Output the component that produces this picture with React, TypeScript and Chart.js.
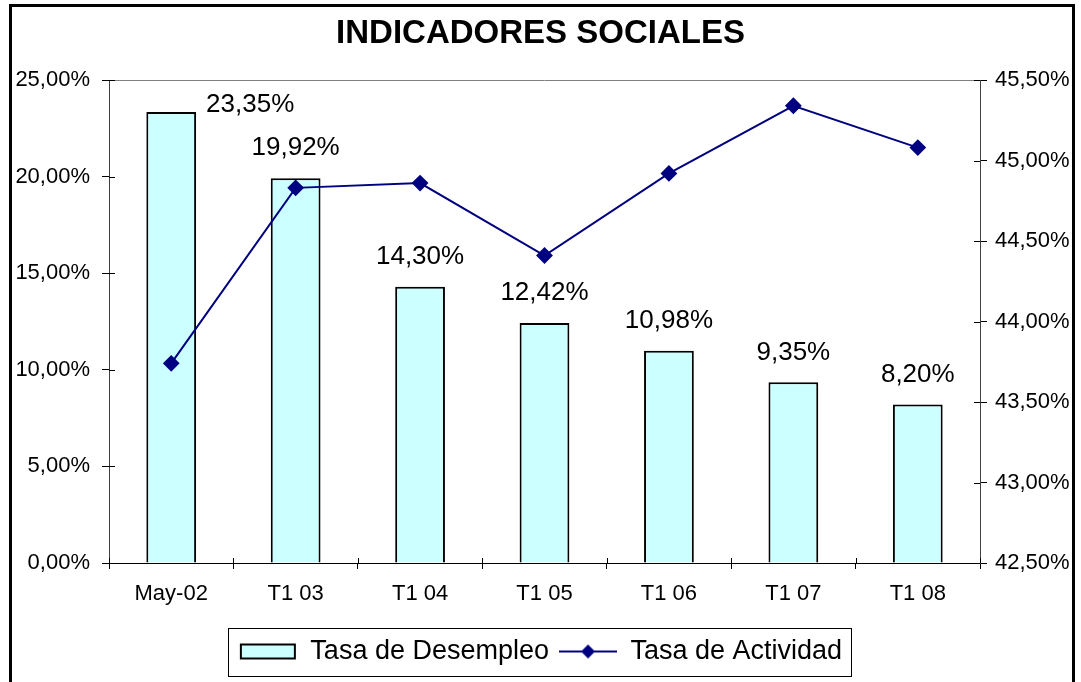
import React, { useEffect, useRef } from 'react';
import { Chart, registerables } from 'chart.js';

Chart.register(...registerables);

const categories = ['May-02', 'T1 03', 'T1 04', 'T1 05', 'T1 06', 'T1 07', 'T1 08'];
const desempleo = [23.35, 19.92, 14.3, 12.42, 10.98, 9.35, 8.2];
const actividad = [43.74, 44.83, 44.86, 44.41, 44.92, 45.34, 45.08];
const leftTicks = [0, 5, 10, 15, 20, 25];
const rightTicks = [42.5, 43, 43.5, 44, 44.5, 45, 45.5];
const seriesNames = ['Tasa de Desempleo', 'Tasa de Actividad'];
const title = 'INDICADORES SOCIALES';

const FONT = "'Liberation Sans', Arial, sans-serif";
const BAR_FILL = '#CCFFFF';
const LINE_COLOR = '#000080';

const fmt = (v: number) => v.toFixed(2).replace('.', ',') + '%';

// position tweak for the first data label (moved aside like in the original)
const LABEL_SHIFT: Array<[number, number]> = [[79, 23], [0, 0], [0, 0], [0, 0], [0, 0], [0, 0], [0, 0]];

function makeBarSymbol() {
  const c = document.createElement('canvas');
  c.width = 58;
  c.height = 18;
  const g = c.getContext('2d')!;
  g.fillStyle = BAR_FILL;
  g.fillRect(2, 2, 54, 14);
  g.strokeStyle = '#000';
  g.lineWidth = 2;
  g.strokeRect(2, 2, 54, 14);
  return c;
}

function makeLineSymbol() {
  const c = document.createElement('canvas');
  c.width = 58;
  c.height = 18;
  const g = c.getContext('2d')!;
  g.strokeStyle = LINE_COLOR;
  g.lineWidth = 2;
  g.beginPath();
  g.moveTo(0, 9);
  g.lineTo(58, 9);
  g.stroke();
  g.fillStyle = LINE_COLOR;
  g.beginPath();
  g.moveTo(29, 2);
  g.lineTo(36, 9);
  g.lineTo(29, 16);
  g.lineTo(22, 9);
  g.closePath();
  g.fill();
  return c;
}

const decorPlugin = {
  id: 'decor',
  afterDatasetsDraw(chart: any) {
    const { ctx, chartArea } = chart;
    const { left, right, top, bottom } = chartArea;
    ctx.save();
    // plot area top border
    ctx.strokeStyle = '#808080';
    ctx.lineWidth = 1;
    ctx.beginPath();
    ctx.moveTo(left, top + 0.5);
    ctx.lineTo(right, top + 0.5);
    ctx.stroke();
    // inner halves of crossing tick marks
    ctx.strokeStyle = '#000';
    const yL = chart.scales.y;
    const yR = chart.scales.y1;
    ctx.beginPath();
    yL.ticks.forEach((t: any) => {
      const p = Math.round(yL.getPixelForValue(t.value)) + 0.5;
      ctx.moveTo(left, p);
      ctx.lineTo(left + 6, p);
    });
    yR.ticks.forEach((t: any) => {
      const p = Math.round(yR.getPixelForValue(t.value)) + 0.5;
      ctx.moveTo(right - 6, p);
      ctx.lineTo(right, p);
    });
    const n = categories.length;
    for (let i = 0; i <= n; i++) {
      const p = Math.round(left + ((right - left) * i) / n) + 0.5;
      ctx.moveTo(p, bottom - 5);
      ctx.lineTo(p, bottom);
    }
    ctx.stroke();

    // data labels
    const meta = chart.getDatasetMeta(0);
    ctx.fillStyle = '#000';
    ctx.font = `26px ${FONT}`;
    ctx.textAlign = 'center';
    ctx.textBaseline = 'middle';
    meta.data.forEach((el: any, i: number) => {
      const [dx, dy] = LABEL_SHIFT[i] || [0, 0];
      ctx.fillText(fmt(desempleo[i]), el.x + dx, el.y - 30 + dy);
    });
    ctx.restore();
  },
  afterDraw(chart: any) {
    const { ctx } = chart;
    ctx.save();
    // outer chart frame (bottom edge falls outside the picture)
    ctx.strokeStyle = '#000';
    ctx.lineWidth = 3;
    ctx.strokeRect(10.5, 5.5, 1063, 720);
    const lg = chart.legend;
    if (lg && lg.legendHitBoxes && lg.legendHitBoxes.length) {
      const boxes = lg.legendHitBoxes;
      const first = boxes[0];
      const last = boxes[boxes.length - 1];
      ctx.lineWidth = 1;
      const x0 = Math.round(first.left - 11) + 0.5;
      const x1 = Math.round(last.left + last.width + 9) + 0.5;
      const y0 = Math.round(lg.top) + 0.5;
      const y1 = y0 + 48;
      ctx.strokeRect(x0, y0, x1 - x0, y1 - y0);
    }
    ctx.restore();
  },
};

export default function App() {
  const ref = useRef<HTMLCanvasElement | null>(null);

  useEffect(() => {
    if (!ref.current) return;
    const barSym = makeBarSymbol();
    const lineSym = makeLineSymbol();
    const chart = new Chart(ref.current, {
      type: 'bar',
      data: {
        labels: categories,
        datasets: [
          {
            type: 'bar',
            label: seriesNames[0],
            data: desempleo,
            backgroundColor: BAR_FILL,
            borderColor: '#000',
            borderWidth: 2,
            barPercentage: 0.4,
            categoryPercentage: 1,
            yAxisID: 'y',
            order: 1,
          },
          {
            type: 'line',
            label: seriesNames[1],
            data: actividad,
            borderColor: LINE_COLOR,
            backgroundColor: LINE_COLOR,
            borderWidth: 2,
            pointStyle: 'rectRot',
            pointRadius: 7,
            pointBackgroundColor: LINE_COLOR,
            pointBorderColor: LINE_COLOR,
            tension: 0,
            fill: false,
            yAxisID: 'y1',
            order: 0,
          },
        ],
      } as any,
      options: {
        responsive: false,
        animation: false,
        layout: { padding: { left: 0, right: 0, top: 0, bottom: 7 } },
        plugins: {
          tooltip: { enabled: false },
          title: {
            display: true,
            text: title,
            color: '#000',
            font: { family: FONT, size: 33, weight: 'bold', lineHeight: 1.2 },
            padding: { top: 14, bottom: 26.4 },
          },
          legend: {
            display: true,
            position: 'bottom',
            labels: {
              color: '#000',
              font: { family: FONT, size: 27 },
              usePointStyle: true,
              pointStyleWidth: 58,
              padding: 10,
              sort: (a: any, b: any) => a.datasetIndex - b.datasetIndex,
              generateLabels: (chart: any) => {
                const items = Chart.defaults.plugins.legend.labels.generateLabels(chart);
                items.forEach((it: any) => {
                  it.pointStyle = it.datasetIndex === 0 ? barSym : lineSym;
                });
                return items;
              },
            },
          },
        },
        scales: {
          x: {
            type: 'category',
            grid: { display: true, drawOnChartArea: false, offset: true, tickLength: 6, color: '#000' },
            border: { display: true, color: '#000', width: 1 },
            ticks: { color: '#000', font: { family: FONT, size: 22 }, padding: 12, maxRotation: 0 },
            afterFit: (s: any) => {
              s.height = 65;
            },
          },
          y: {
            position: 'left',
            min: leftTicks[0],
            max: leftTicks[leftTicks.length - 1],
            ticks: {
              stepSize: leftTicks[1] - leftTicks[0],
              color: '#000',
              font: { family: FONT, size: 22 },
              padding: 12,
              callback: (v: any) => fmt(Number(v)),
            },
            grid: { display: true, drawOnChartArea: false, tickLength: 7, color: '#000' },
            border: { display: true, color: '#404040', width: 1 },
            afterFit: (s: any) => {
              s.width = 109;
            },
          },
          y1: {
            position: 'right',
            min: rightTicks[0],
            max: rightTicks[rightTicks.length - 1],
            ticks: {
              stepSize: rightTicks[1] - rightTicks[0],
              color: '#000',
              font: { family: FONT, size: 22 },
              padding: 8,
              callback: (v: any) => fmt(Number(v)),
            },
            grid: { display: true, drawOnChartArea: false, tickLength: 7, color: '#000' },
            border: { display: true, color: '#404040', width: 1 },
            afterFit: (s: any) => {
              s.width = 101;
            },
          },
        },
      } as any,
      plugins: [decorPlugin],
    });
    return () => chart.destroy();
  }, []);

  return (
    <div style={{ position: 'absolute', left: 0, top: 0, width: 1081, height: 682, overflow: 'hidden', background: '#fff' }}>
      <canvas ref={ref} width={1081} height={682} style={{ display: 'block' }} />
    </div>
  );
}
